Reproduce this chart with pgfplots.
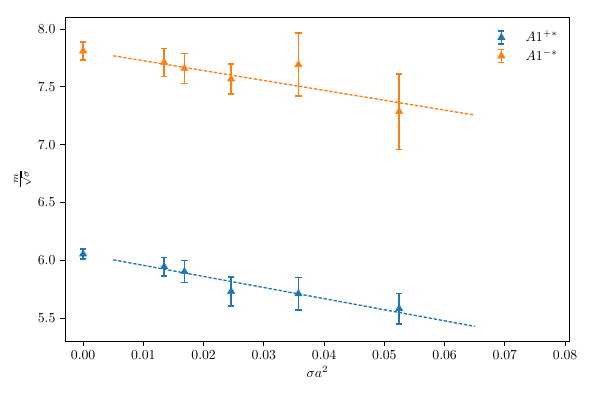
\documentclass[border=0pt]{standalone}
\usepackage{pgfplots}
\pgfplotsset{compat=1.18}
\definecolor{mplblue}{RGB}{31,119,180}
\definecolor{mplorange}{RGB}{255,127,14}
\newcommand{\ebleg}[1]{%
  \path[draw=none, fill=none] (0.2cm,0cm) -- (1.05cm,0cm);
  \draw[#1, line width=1.1pt] (0.5cm,-0.17cm) -- (0.5cm,0.17cm);
  \draw[#1, line width=1.1pt] (0.42cm,-0.17cm) -- (0.58cm,-0.17cm);
  \draw[#1, line width=1.1pt] (0.42cm,0.17cm) -- (0.58cm,0.17cm);
  \path[#1] plot[mark=triangle*, mark size=3pt, mark options={fill=#1, draw=#1}] coordinates {(0.5cm,0cm)};}
\pgfplotstableread{
x        y      e
0.0      6.054  0.044
0.01344  5.945  0.080
0.01681  5.902  0.094
0.02456  5.730  0.127
0.03573  5.710  0.141
0.05245  5.581  0.132
}\blue
\pgfplotstableread{
x        y      e
0.0      7.811  0.077
0.01344  7.712  0.121
0.01681  7.660  0.130
0.02456  7.567  0.130
0.03573  7.692  0.272
0.05245  7.286  0.327
}\orange
\begin{document}
\begin{tikzpicture}
\begin{axis}[
  scale only axis, width=367pt, height=235.6pt,
  xmin=-0.003, xmax=0.0808, ymin=5.3, ymax=8.104,
  xtick={0,0.01,0.02,0.03,0.04,0.05,0.06,0.07,0.08}, ytick={5.5,6.0,6.5,7.0,7.5,8.0},
  scaled x ticks=false, scaled y ticks=false,
  tick align=outside, tick pos=left, major tick length=3.5pt,
  tick style={line width=0.7pt, black},
  axis line style={line width=0.7pt},
  xticklabel style={/pgf/number format/fixed, /pgf/number format/fixed zerofill, /pgf/number format/precision=2},
  yticklabel style={/pgf/number format/fixed, /pgf/number format/fixed zerofill, /pgf/number format/precision=1},
  xlabel={$\sigma a^2$}, ylabel={$\frac{m}{\sqrt{\sigma}}$},
  xlabel style={yshift=2pt}, ylabel style={yshift=-2pt},
  legend style={draw=none, fill=none, at={(0.99,0.975)}, anchor=north east,
    row sep=0pt},
  legend cell align=left,
]
\addplot[mplblue, only marks, mark=triangle*, mark size=3pt,
  legend image code/.code={\ebleg{mplblue}},
  error bars/.cd, y dir=both, y explicit,
  error bar style={line width=1.1pt, mplblue},
  error mark options={rotate=90, mark size=2.3pt, line width=1.1pt, mplblue}]
  table[x=x, y=y, y error=e] {\blue};
\addlegendentry{$A1^{+*}$}
\addplot[mplorange, only marks, mark=triangle*, mark size=3pt,
  legend image code/.code={\ebleg{mplorange}},
  error bars/.cd, y dir=both, y explicit,
  error bar style={line width=1.1pt, mplorange},
  error mark options={rotate=90, mark size=2.3pt, line width=1.1pt, mplorange}]
  table[x=x, y=y, y error=e] {\orange};
\addlegendentry{$A1^{-*}$}
\addplot[mplblue, line width=1pt, dash pattern=on 2.4pt off 1.3pt, forget plot]
  coordinates {(0.005,6.004) (0.065,5.428)};
\addplot[mplorange, line width=1pt, dash pattern=on 2.4pt off 1.3pt, forget plot]
  coordinates {(0.005,7.769) (0.065,7.256)};
\end{axis}
\path ([shift={(-47.3pt,-40pt)}]current axis.south west) rectangle ([shift={(18.2pt,12.4pt)}]current axis.north east);
\end{tikzpicture}
\end{document}
